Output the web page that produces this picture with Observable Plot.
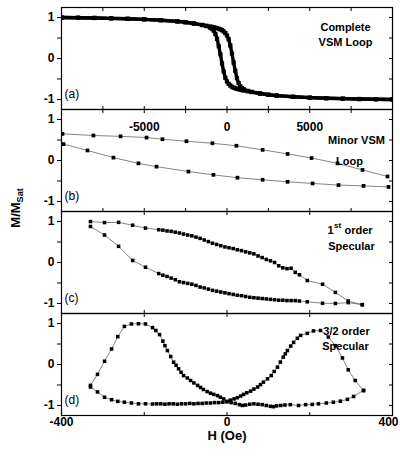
<!DOCTYPE html>
<html><head><meta charset="utf-8">
<script src="https://cdn.jsdelivr.net/npm/d3@7"></script>
<script src="https://cdn.jsdelivr.net/npm/@observablehq/plot@0.6"></script>
<style>
html,body{margin:0;padding:0;background:#fff;overflow:hidden;}
#chart{position:relative;width:400px;height:457px;font-family:"Liberation Sans",Arial,Helvetica,sans-serif;}
</style></head><body><div id="chart"></div>
<script>
// ---------- tick values / labels ----------
const yMajor = [-1, 0, 1];
const yMinor = [-0.5, 0.5];
const yAll = [-1, -0.5, 0, 0.5, 1];
const vsmTicks = [-10000, -7500, -5000, -2500, 0, 2500, 5000, 7500, 10000];
const vsmLabels = [-5000, 0, 5000];
const specTicks = [-400, -200, 0, 200, 400];
const specLabels = [-400, 0, 400];
const panelLabels = ["(a)", "(b)", "(c)", "(d)"];
const yTitle = "M/M";
const yTitleSub = "Sat";
const xTitle = "H (Oe)";

// ---------- (a) complete VSM loop ----------
const aH = [-10000,-9000,-8000,-7000,-6000,-5000,-4000,-3000,-2500,-2000,-1500,-1250,-1000,-900,-800,-700,-600,-500,-400,-300,-200,-100,0,100,200,300,400,500,600,700,800,900,1000,1250,1500,2000,2500,3000,4000,5000,6000,7000,8000,9000,10000];
const a1M = [1.0,0.995,0.99,0.98,0.97,0.955,0.935,0.905,0.885,0.855,0.815,0.79,0.75,0.72,0.68,0.6,0.48,0.3,0.1,-0.12,-0.32,-0.47,-0.56,-0.62,-0.66,-0.69,-0.71,-0.725,-0.74,-0.75,-0.76,-0.77,-0.78,-0.80,-0.82,-0.855,-0.885,-0.905,-0.935,-0.955,-0.97,-0.98,-0.99,-0.995,-1.0];
const a2M = [1.0,0.995,0.99,0.98,0.97,0.955,0.935,0.905,0.885,0.855,0.82,0.80,0.78,0.77,0.76,0.75,0.74,0.725,0.71,0.69,0.66,0.62,0.56,0.47,0.32,0.12,-0.1,-0.3,-0.48,-0.6,-0.68,-0.72,-0.75,-0.79,-0.815,-0.855,-0.885,-0.905,-0.935,-0.955,-0.97,-0.98,-0.99,-0.995,-1.0];

// ---------- (b) minor VSM loop ----------
const bUpH = [-9940,-8070,-6430,-4860,-3900,-2450,-880,570,2150,3660,5110,6680,8190,9700];
const bUpM = [0.65,0.61,0.59,0.56,0.52,0.47,0.42,0.36,0.26,0.16,0.06,-0.07,-0.23,-0.39];
const bLoH = [-9880,-8430,-6860,-5350,-4260,-2330,-820,630,2150,3660,5170,6740,8250,9760];
const bLoM = [0.40,0.245,0.07,-0.07,-0.15,-0.27,-0.35,-0.42,-0.47,-0.52,-0.56,-0.60,-0.62,-0.645];

// ---------- (c) 1st order specular ----------
const cH = [-330,-296,-262,-228,-197,-165,-155,-145,-135,-125,-115,-105,-95,-85,-75,-65,-55,-45,-35,-25,-15,-5,5,15,25,35,45,55,65,75,85,95,105,115,125,135,145,155,165,175,194,231,262,293,327];
const cUpM = [1.00,0.975,0.98,0.91,0.84,0.80,0.79,0.77,0.76,0.74,0.72,0.695,0.67,0.65,0.62,0.59,0.55,0.51,0.47,0.44,0.41,0.38,0.36,0.34,0.31,0.29,0.26,0.235,0.21,0.16,0.12,0.075,0.04,0.00,-0.08,-0.13,-0.15,-0.14,-0.24,-0.30,-0.44,-0.53,-0.73,-0.94,-1.03];
const cLoM = [0.88,0.67,0.395,0.05,-0.115,-0.27,-0.31,-0.34,-0.38,-0.42,-0.47,-0.49,-0.51,-0.53,-0.56,-0.60,-0.62,-0.65,-0.68,-0.70,-0.72,-0.74,-0.76,-0.78,-0.80,-0.81,-0.83,-0.85,-0.86,-0.87,-0.88,-0.89,-0.90,-0.91,-0.92,-0.92,-0.93,-0.93,-0.93,-0.94,-0.96,-0.995,-1.0,-0.98,-1.03];

// ---------- (d) 3/2 order specular ----------
const d1H = [-330,-313,-296,-279,-264,-248,-231,-214,-197,-180,-170,-160,-150,-140,-130,-120,-110,-100,-90,-80,-70,-60,-50,-40,-30,-20,-10,0,8,17,25,33,40,48,57,65,74,81,88,98,107,114,122,129,136,141,146,154,161,170,178,194,209,226,245,262,279,293,310,330];
const d1M = [-0.55,-0.67,-0.80,-0.86,-0.90,-0.92,-0.94,-0.96,-0.96,-0.965,-0.96,-0.96,-0.97,-0.96,-0.96,-0.97,-0.96,-0.96,-0.95,-0.96,-0.95,-0.95,-0.94,-0.94,-0.93,-0.93,-0.92,-0.91,-0.87,-0.84,-0.81,-0.77,-0.73,-0.69,-0.65,-0.60,-0.55,-0.49,-0.43,-0.35,-0.27,-0.17,-0.065,0.06,0.18,0.26,0.34,0.45,0.54,0.64,0.71,0.76,0.82,0.83,0.67,0.46,0.16,-0.13,-0.39,-0.64];
const d2H = [330,306,291,274,257,240,221,206,190,173,153,140,130,120,112,105,95,85,75,65,55,45,37,30,20,10,0,-8,-16,-23,-32,-40,-48,-57,-64,-71,-80,-88,-96,-105,-111,-117,-123,-129,-136,-144,-150,-155,-163,-172,-180,-197,-214,-231,-248,-264,-279,-296,-313,-330];
const d2M = [-0.63,-0.78,-0.85,-0.895,-0.92,-0.94,-0.96,-0.975,-0.98,-1.0,-0.98,-0.99,-1.0,-1.01,-1.03,-1.02,-1.0,-0.98,-0.97,-0.96,-0.97,-0.99,-1.0,-0.98,-0.95,-0.93,-0.90,-0.84,-0.80,-0.76,-0.73,-0.70,-0.66,-0.61,-0.56,-0.51,-0.45,-0.39,-0.33,-0.27,-0.19,-0.105,-0.02,0.056,0.195,0.34,0.46,0.57,0.73,0.83,0.90,0.99,0.995,0.99,0.93,0.68,0.38,0.08,-0.24,-0.51];

// ---------- helpers ----------
const FONT = "'Liberation Sans', Arial, Helvetica, sans-serif";
const PH = 102;
const tops = [7, 109, 211, 313];
const rows = (hs, ms) => hs.map((H, i) => ({H, M: ms[i]}));
const lineStyle = {x: "H", y: "M", stroke: "#666", strokeWidth: 0.8, clip: true};
const dotStyle = (r) => ({x: "H", y: "M", symbol: "square", r, fill: "#000", stroke: "none", clip: true});
const note = (t, dx, dy, extra = {}) => Plot.text([t], {text: d => d, frameAnchor: "top-right", dx, dy, textAnchor: "middle", fontWeight: "bold", fontSize: 11, fill: "#000", ...extra});
const plabel = (t) => Plot.text([t], {text: d => d, frameAnchor: "bottom-left", dx: 3, dy: -12, textAnchor: "start", fontSize: 12, fill: "#000"});

function panel(top, xDomain, xTickVals, marks, mb = 4) {
  const mt = 4;
  const svg = Plot.plot({
    width: 400, height: PH + mt + mb,
    marginLeft: 61, marginRight: 8, marginTop: mt, marginBottom: mb,
    x: {domain: xDomain}, y: {domain: [-1.245, 1.245]},
    style: {background: "transparent", overflow: "visible", fontFamily: FONT, color: "#000"},
    marks: [
      ...marks,
      Plot.frame({stroke: "#000", strokeWidth: 1.2}),
      Plot.axisY(yMajor, {anchor: "left", tickSize: 4, tickPadding: 3, tickFormat: d => String(d), fontSize: 12, fontWeight: "bold", label: null}),
      Plot.axisY(yMinor, {anchor: "left", tickSize: 4, tickFormat: () => "", label: null}),
      Plot.axisY(yAll, {anchor: "right", tickSize: 4, dx: -4, tickFormat: () => "", label: null}),
      Plot.axisX(xTickVals, {anchor: "top", tickSize: 3, dy: 3, tickFormat: () => "", label: null}),
      Plot.axisX(xTickVals, {anchor: "bottom", tickSize: 3, dy: -3, tickFormat: () => "", label: null})
    ]
  });
  svg.style.position = "absolute";
  svg.style.left = "0px";
  svg.style.top = (top - mt) + "px";
  return svg;
}

const chart = document.getElementById("chart");

// (a)
chart.appendChild(panel(tops[0], [-10000, 10000], vsmTicks, [
  Plot.line(rows(aH, a1M), {...lineStyle, stroke: "#000", strokeWidth: 3.4}),
  Plot.line(rows(aH, a2M), {...lineStyle, stroke: "#000", strokeWidth: 3.4}),
  Plot.dot(rows(aH, a1M), dotStyle(2.4)),
  Plot.dot(rows(aH, a2M), dotStyle(2.4)),
  note("Complete", -47, 16),
  note("VSM Loop", -47, 31),
  plabel(panelLabels[0])
]));

// (b)
chart.appendChild(panel(tops[1], [-10000, 10000], vsmTicks, [
  Plot.line(rows(bUpH, bUpM), lineStyle),
  Plot.line(rows(bLoH, bLoM), lineStyle),
  Plot.dot(rows(bUpH, bUpM), dotStyle(2.1)),
  Plot.dot(rows(bLoH, bLoM), dotStyle(2.1)),
  Plot.text(vsmLabels, {x: d => d, text: d => String(d), frameAnchor: "top", dy: 13, fontWeight: "bold", fontSize: 12, fill: "#000"}),
  note("Minor VSM", -36, 27),
  note("Loop", -43, 48),
  plabel(panelLabels[1])
]));

// (c)
chart.appendChild(panel(tops[2], [-400, 400], specTicks, [
  Plot.line(rows(cH, cUpM), lineStyle),
  Plot.line(rows(cH, cLoM), lineStyle),
  Plot.dot(rows(cH, cUpM), dotStyle(2.0)),
  Plot.dot(rows(cH, cLoM), dotStyle(2.0)),
  Plot.text(["1"], {text: d => d, frameAnchor: "top-right", dx: -65, dy: 15, textAnchor: "start", fontWeight: "bold", fontSize: 11, fill: "#000"}),
  Plot.text(["st"], {text: d => d, frameAnchor: "top-right", dx: -58.5, dy: 11, textAnchor: "start", fontWeight: "bold", fontSize: 8, fill: "#000"}),
  Plot.text(["order"], {text: d => d, frameAnchor: "top-right", dx: -48, dy: 15, textAnchor: "start", fontWeight: "bold", fontSize: 11, fill: "#000"}),
  note("Specular", -41, 31),
  plabel(panelLabels[2])
]));

// (d)
chart.appendChild(panel(tops[3], [-400, 400], specTicks, [
  Plot.line(rows(d1H, d1M), lineStyle),
  Plot.line(rows(d2H, d2M), lineStyle),
  Plot.dot(rows(d1H, d1M), dotStyle(2.0)),
  Plot.dot(rows(d2H, d2M), dotStyle(2.0)),
  note("3/2 order", -46, 14),
  note("Specular", -47, 29),
  plabel(panelLabels[3]),
  Plot.axisX(specLabels.slice(0, 2), {anchor: "bottom", tickSize: 0, tickPadding: 2, tickFormat: d => String(d), fontWeight: "bold", fontSize: 12, label: null}),
  Plot.axisX(specLabels.slice(2), {anchor: "bottom", tickSize: 0, tickPadding: 2, dx: -4, tickFormat: d => String(d), fontWeight: "bold", fontSize: 12, label: null}),
  Plot.text([xTitle], {text: d => d, frameAnchor: "bottom", dy: 24, fontWeight: "bold", fontSize: 13, fill: "#000"})
], 40));

// y-axis title
const ysvg = d3.select(chart).append("svg")
  .attr("width", 40).attr("height", 457)
  .style("position", "absolute").style("left", "0px").style("top", "0px").style("overflow", "visible");
const yt = ysvg.append("text")
  .attr("transform", "translate(20,208) rotate(-90)")
  .attr("text-anchor", "middle")
  .attr("font-family", FONT).attr("font-weight", "bold").attr("font-size", 13).attr("fill", "#000");
yt.append("tspan").text(yTitle);
yt.append("tspan").attr("font-size", 9).attr("dy", 3).text(yTitleSub);
</script>
</body></html>
